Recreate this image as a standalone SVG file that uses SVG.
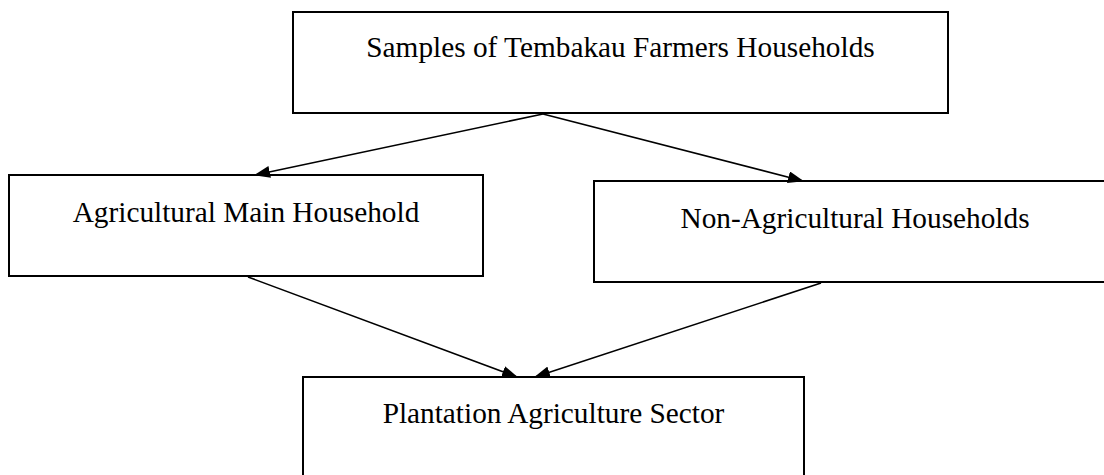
<svg xmlns="http://www.w3.org/2000/svg" width="1104" height="475" viewBox="0 0 1104 475">
<style>
.box{fill:#fff;stroke:#000;stroke-width:2}
.lbl{font-family:"Liberation Serif","Times New Roman",serif;font-size:29.3px;fill:#000;text-anchor:middle}
.edge{stroke:#000;stroke-width:1.6;fill:none;marker-end:url(#ah)}
</style>
<defs>
<marker id="ah" markerUnits="userSpaceOnUse" markerWidth="16" markerHeight="12" refX="15" refY="6" orient="auto" viewBox="0 0 16 12">
<path d="M0,0 L16,6 L0,12 z" fill="#000"/>
</marker>
</defs>
<rect width="1104" height="475" fill="#fff"/>
<g id="n-samples">
<rect class="box" x="293" y="12" width="655" height="101"/>
<text class="lbl" x="620.5" y="57">Samples of Tembakau Farmers Households</text>
</g>
<g id="n-agri">
<rect class="box" x="9" y="175" width="474" height="101"/>
<text class="lbl" x="246" y="222">Agricultural Main Household</text>
</g>
<g id="n-nonagri">
<rect class="box" x="594" y="181" width="530" height="101"/>
<text class="lbl" x="855" y="228">Non-Agricultural Households</text>
</g>
<g id="n-plantation">
<rect class="box" x="303" y="377" width="501" height="120"/>
<text class="lbl" x="553.5" y="423">Plantation Agriculture Sector</text>
</g>
<g id="connectors">
<line class="edge" x1="543" y1="114" x2="255" y2="175"/>
<line class="edge" x1="543" y1="114" x2="803" y2="181"/>
<line class="edge" x1="248" y1="277" x2="517" y2="377"/>
<line class="edge" x1="821" y1="283" x2="535" y2="377"/>
</g>
</svg>
